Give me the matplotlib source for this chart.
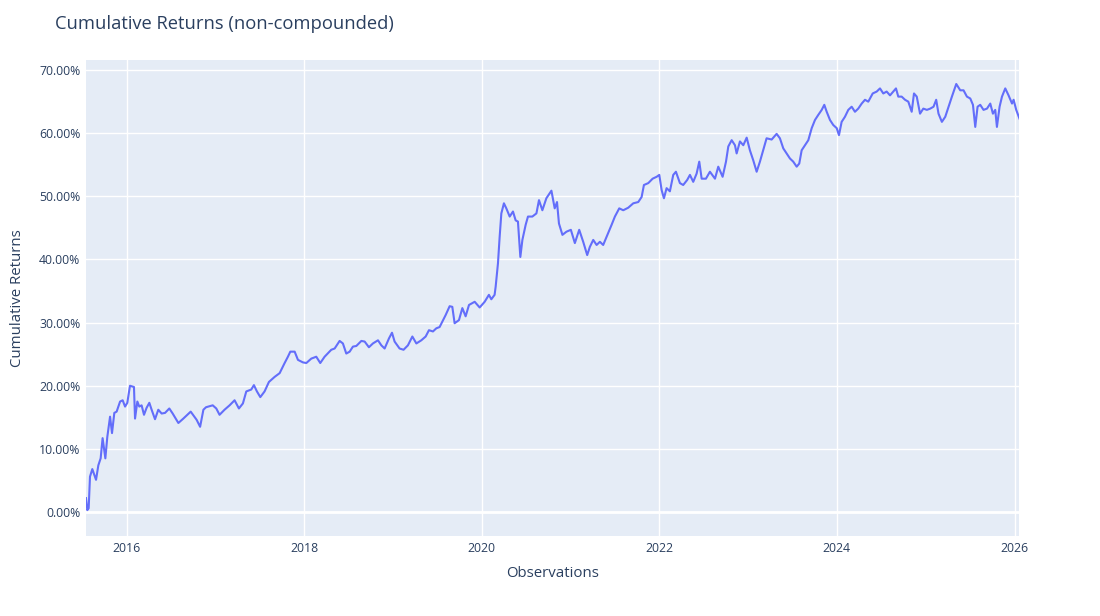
"""
Cumulative returns (non-compounded), plotly-style look in matplotlib.
Values read off the reference chart; x in decimal years, y in percent.
"""

import pandas as pd
import matplotlib
matplotlib.use("Agg")
import matplotlib.pyplot as plt
import matplotlib.dates as mdates
from matplotlib.ticker import FuncFormatter

TITLE = "Cumulative Returns (non-compounded)"
X_LABEL = "Observations"
Y_LABEL = "Cumulative Returns"

obs_years = [
    2015.542, 2015.557, 2015.572, 2015.587, 2015.613, 2015.655, 2015.681, 2015.707,
    2015.729, 2015.760, 2015.782, 2015.813, 2015.835, 2015.861, 2015.887, 2015.926,
    2015.955, 2015.982, 2016.008, 2016.038, 2016.083, 2016.095, 2016.121, 2016.143,
    2016.169, 2016.196, 2016.225, 2016.256, 2016.282, 2016.320, 2016.357, 2016.395,
    2016.433, 2016.481, 2016.519, 2016.583, 2016.639, 2016.722, 2016.789, 2016.828,
    2016.865,
    2016.895, 2016.970, 2017.008, 2017.045, 2017.101, 2017.158, 2017.214, 2017.263,
    2017.308, 2017.346, 2017.402, 2017.432, 2017.466, 2017.504, 2017.552, 2017.601,
    2017.665, 2017.722, 2017.778, 2017.815, 2017.842, 2017.891, 2017.928, 2017.984,
    2018.023, 2018.079, 2018.135, 2018.180, 2018.229, 2018.304, 2018.342, 2018.398,
    2018.435, 2018.473,
    2018.511, 2018.548, 2018.586, 2018.643, 2018.680, 2018.728, 2018.773, 2018.830,
    2018.868, 2018.905, 2018.954, 2018.988, 2019.018, 2019.074, 2019.119, 2019.168,
    2019.218, 2019.263, 2019.319, 2019.368, 2019.405, 2019.450, 2019.488,
    2019.525, 2019.593, 2019.638, 2019.668, 2019.694, 2019.743, 2019.781, 2019.818,
    2019.856, 2019.920, 2019.976, 2020.033, 2020.081, 2020.108, 2020.145, 2020.157,
    2020.183, 2020.202, 2020.221, 2020.250, 2020.277, 2020.315, 2020.352, 2020.382,
    2020.408, 2020.435, 2020.458, 2020.495, 2020.521, 2020.570, 2020.616, 2020.645,
    2020.683, 2020.728, 2020.785, 2020.822, 2020.848, 2020.870, 2020.909, 2020.954,
    2021.002, 2021.047, 2021.096, 2021.141, 2021.186, 2021.216, 2021.254, 2021.292,
    2021.329, 2021.366, 2021.405, 2021.461, 2021.498, 2021.547, 2021.592, 2021.648,
    2021.705, 2021.761, 2021.799, 2021.825, 2021.874, 2021.923, 2021.968, 2021.998,
    2022.025, 2022.051, 2022.081, 2022.118, 2022.156, 2022.186, 2022.231, 2022.268,
    2022.313, 2022.344, 2022.381, 2022.419, 2022.449, 2022.476, 2022.524, 2022.569,
    2022.626, 2022.663, 2022.712, 2022.750,
    2022.776, 2022.814, 2022.851, 2022.870, 2022.907, 2022.945, 2022.983, 2023.020,
    2023.058, 2023.096, 2023.133, 2023.170, 2023.208, 2023.265, 2023.321, 2023.358,
    2023.396, 2023.434, 2023.471, 2023.508, 2023.547, 2023.576, 2023.603, 2023.640,
    2023.678, 2023.716, 2023.753, 2023.790, 2023.829, 2023.858, 2023.885, 2023.922,
    2023.959, 2023.998, 2024.024, 2024.054, 2024.091, 2024.129, 2024.167, 2024.204,
    2024.241, 2024.280, 2024.317, 2024.354, 2024.404, 2024.449, 2024.486, 2024.523,
    2024.561, 2024.599, 2024.636, 2024.666, 2024.692, 2024.730, 2024.768, 2024.805,
    2024.843, 2024.869, 2024.900, 2024.937, 2024.974, 2025.012, 2025.050, 2025.087,
    2025.117, 2025.143, 2025.181, 2025.219, 2025.256, 2025.294, 2025.343, 2025.388,
    2025.425, 2025.463, 2025.501, 2025.531, 2025.557, 2025.583, 2025.613, 2025.650,
    2025.689, 2025.726, 2025.756, 2025.782, 2025.801, 2025.831, 2025.858, 2025.895,
    2025.932, 2025.971, 2025.989, 2026.019, 2026.056,
]

cum_returns_pct = [
    2.2, 0.3, 0.6, 5.6, 6.8, 5.1, 7.4, 8.5,
    11.7, 8.5, 11.9, 15.1, 12.5, 15.7, 15.9, 17.5,
    17.7, 16.7, 17.3, 20.0, 19.8, 14.8, 17.5, 16.7,
    16.9, 15.4, 16.5, 17.3, 16.2, 14.7, 16.2, 15.6,
    15.7, 16.4, 15.6, 14.1, 14.8, 15.9, 14.6, 13.5,
    16.2,
    16.6, 16.9, 16.4, 15.4, 16.2, 16.9, 17.7, 16.4,
    17.2, 19.1, 19.4, 20.1, 19.1, 18.2, 19.1, 20.6,
    21.4, 22.0, 23.6, 24.6, 25.4, 25.4, 24.1, 23.7,
    23.6, 24.3, 24.6, 23.6, 24.6, 25.7, 25.9, 27.1,
    26.7, 25.1,
    25.4, 26.2, 26.3, 27.1, 27.0, 26.1, 26.7, 27.2,
    26.4, 25.9, 27.5, 28.4, 27.0, 25.9, 25.7, 26.4,
    27.8, 26.7, 27.2, 27.8, 28.8, 28.6, 29.1,
    29.3, 31.2, 32.6, 32.5, 29.9, 30.4, 32.3, 31.0,
    32.8, 33.3, 32.4, 33.3, 34.4, 33.7, 34.4, 35.7,
    39.4, 43.6, 47.3, 48.9, 48.1, 46.8, 47.6, 46.2,
    46.0, 40.4, 43.1, 45.5, 46.8, 46.8, 47.3, 49.4,
    47.8, 49.7, 50.9, 48.1, 49.1, 45.7, 43.9, 44.4,
    44.7, 42.6, 44.7, 42.8, 40.7, 42.0, 43.1, 42.3,
    42.8, 42.3, 43.6, 45.5, 46.8, 48.1, 47.8, 48.2,
    48.9, 49.1, 49.9, 51.8, 52.1, 52.8, 53.1, 53.4,
    51.0, 49.7, 51.3, 50.8, 53.4, 53.9, 52.1, 51.8,
    52.6, 53.4, 52.3, 53.6, 55.5, 52.8, 52.8, 53.9,
    52.8, 54.7, 53.1, 55.5,
    57.9, 58.9, 58.1, 56.8, 58.7, 58.1, 59.3, 57.3,
    55.7, 53.9, 55.5, 57.3, 59.2, 59.0, 59.9, 59.2,
    57.6, 56.8, 56.0, 55.5, 54.7, 55.2, 57.3, 58.1,
    58.9, 60.8, 62.1, 62.9, 63.7, 64.5, 63.4, 62.1,
    61.3, 60.8, 59.7, 61.8, 62.6, 63.7, 64.2, 63.4,
    63.9, 64.7, 65.3, 65.0, 66.3, 66.6, 67.1, 66.3,
    66.6, 66.0, 66.6, 67.1, 65.8, 65.8, 65.3, 65.0,
    63.4, 66.3, 65.8, 63.1, 63.9, 63.7, 63.9, 64.2,
    65.3, 63.1, 61.8, 62.6, 64.2, 65.8, 67.8, 66.8,
    66.8, 65.8, 65.5, 64.5, 61.0, 64.2, 64.5, 63.7,
    63.9, 64.7, 63.1, 63.7, 61.0, 64.2, 65.8, 67.1,
    66.0, 64.7, 65.3, 63.7, 62.3,
]

Y_TICKS = [0, 10, 20, 30, 40, 50, 60, 70]
X_TICK_YEARS = [2016, 2018, 2020, 2022, 2024, 2026]

BG = "#E5ECF6"
LINE = "#636EFA"
TEXT = "#2a3f5f"


def year_to_date(y: float) -> pd.Timestamp:
    """Decimal year -> timestamp."""
    year = int(y)
    return pd.Timestamp(f"{year}-01-01") + pd.Timedelta(days=(y - year) * 365.25)


dates = [year_to_date(y) for y in obs_years]

plt.rcParams["font.family"] = ["Open Sans", "DejaVu Sans"]

fig = plt.figure(figsize=(11, 6.16), dpi=100)
ax = fig.add_axes([86 / 1100, 1 - 536 / 616, (1019.5 - 86) / 1100, (536 - 60) / 616])
ax.set_facecolor(BG)
for s in ax.spines.values():
    s.set_visible(False)

ax.plot(dates, cum_returns_pct, color=LINE, lw=1.5, zorder=3)
ax.axhline(0, color="white", lw=2, zorder=2)

ax.set_xlim(dates[0], dates[-1])
ax.set_ylim(-3.8, 71.6)

ax.set_yticks(Y_TICKS)
ax.yaxis.set_major_formatter(FuncFormatter(lambda v, _: f"{v:.2f}%"))
ax.set_xticks([pd.Timestamp(f"{y}-01-01") for y in X_TICK_YEARS])
ax.xaxis.set_major_formatter(mdates.DateFormatter("%Y"))

ax.grid(True, color="white", lw=1, zorder=1)
ax.set_axisbelow(True)
ax.tick_params(length=0, labelsize=8.8, colors=TEXT, pad=4)

ax.set_xlabel(X_LABEL, fontsize=10.8, color=TEXT, labelpad=8)
ax.set_ylabel(Y_LABEL, fontsize=10.8, color=TEXT, labelpad=10)

fig.text(55 / 1100, 1 - 24 / 616, TITLE, fontsize=13.2, color=TEXT, va="center", ha="left")

fig.savefig("out.png", dpi=100)
